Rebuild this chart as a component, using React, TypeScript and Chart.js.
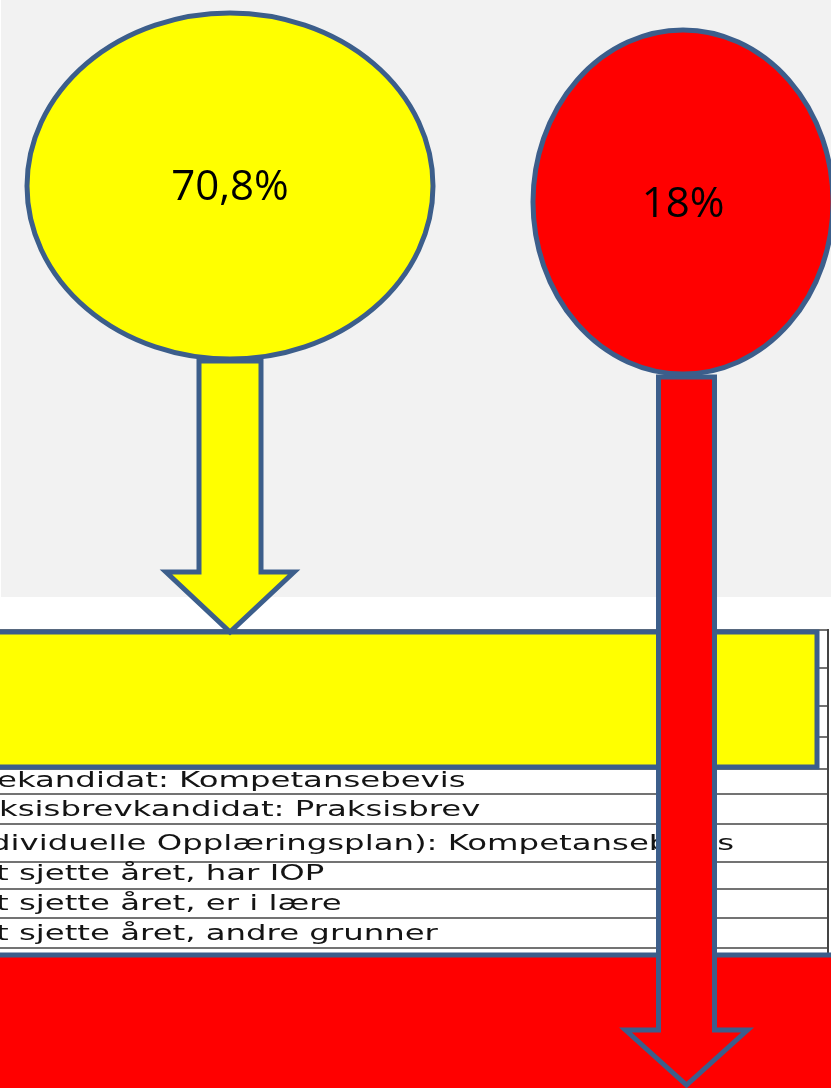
import React, { useEffect, useRef } from "react";
import { Chart, registerables } from "chart.js";

Chart.register(...registerables);

// ---- data ----
const shareLabels = ["70,8%", "18%"];
const shareValues = [70.8, 18];
const shareColors = ["#ffff00", "#ff0000"];
const tableRowLabels = [
  "ekandidat: Kompetansebevis",
  "ksisbrevkandidat: Praksisbrev",
  "dividuelle Opplæringsplan): Kompetansebevis",
  "t sjette året, har IOP",
  "t sjette året, er i lære",
  "t sjette året, andre grunner",
];

// ---- geometry (page units) ----
const W = 831;
const H = 1088;
const BORDER = "#3c5e8b";
const ellipses = [
  { cx: 230, cy: 186, rx: 203, ry: 173, textY: 188 },
  { cx: 683, cy: 202, rx: 150, ry: 172, textY: 205 },
];
const arrows = [
  { cx: 230, half: 31, top: 361, headBase: 572, headHalf: 64, tip: 632 },
  { cx: 686.5, half: 28, top: 377, headBase: 1030, headHalf: 61, tip: 1085 },
];
const rowTextX = [-3, -1, -10, -4, -4, -4];
const rowBaselines = [787, 816, 850, 880, 910, 940];
const rowLines = [630, 668, 706, 737, 769, 794, 824, 862, 889, 918, 948];

const drawPlugin = {
  id: "diagram",
  beforeDatasetsDraw(chart: any) {
    const ctx: CanvasRenderingContext2D = chart.ctx;
    const xs = chart.scales.x;
    const ys = chart.scales.y;
    const X = (v: number) => xs.getPixelForValue(v);
    const Y = (v: number) => ys.getPixelForValue(v);
    const sx = (X(100) - X(0)) / 100;
    const sy = (Y(100) - Y(0)) / 100;

    ctx.save();
    // backgrounds
    ctx.fillStyle = "#ffffff";
    ctx.fillRect(X(0), Y(0), X(W) - X(0), Y(H) - Y(0));
    ctx.fillStyle = "#f2f2f2";
    ctx.fillRect(X(1), Y(0), X(W) - X(1), Y(597) - Y(0));

    // table lines
    ctx.strokeStyle = "#444444";
    ctx.lineWidth = 1.6;
    rowLines.forEach((ly) => {
      ctx.beginPath();
      ctx.moveTo(X(0), Y(ly));
      ctx.lineTo(X(828), Y(ly));
      ctx.stroke();
    });
    ctx.lineWidth = 2;
    ctx.beginPath();
    ctx.moveTo(X(828), Y(629));
    ctx.lineTo(X(828), Y(955));
    ctx.stroke();

    // table text
    ctx.fillStyle = "#141414";
    ctx.font = "21px 'DejaVu Sans'";
    ctx.textBaseline = "alphabetic";
    ctx.textAlign = "left";
    tableRowLabels.forEach((t, i) => {
      ctx.save();
      ctx.translate(X(rowTextX[i]), Y(rowBaselines[i]));
      ctx.scale(1.54 * sx, sy);
      ctx.fillText(t, 0, 0);
      ctx.restore();
    });

    ctx.lineJoin = "miter";
    ctx.lineWidth = 5;
    ctx.strokeStyle = BORDER;

    // yellow box
    ctx.fillStyle = shareColors[0];
    ctx.beginPath();
    ctx.rect(X(-20), Y(632), X(817) - X(-20), Y(767) - Y(632));
    ctx.fill();
    ctx.stroke();

    // red box
    ctx.fillStyle = shareColors[1];
    ctx.beginPath();
    ctx.rect(X(-20), Y(955), X(W + 20) - X(-20), Y(H + 20) - Y(955));
    ctx.fill();
    ctx.stroke();

    // arrows + ellipses
    shareValues.forEach((_, i) => {
      const a = arrows[i];
      const e = ellipses[i];
      ctx.fillStyle = shareColors[i];
      ctx.beginPath();
      ctx.moveTo(X(a.cx - a.half), Y(a.top));
      ctx.lineTo(X(a.cx - a.half), Y(a.headBase));
      ctx.lineTo(X(a.cx - a.headHalf), Y(a.headBase));
      ctx.lineTo(X(a.cx), Y(a.tip));
      ctx.lineTo(X(a.cx + a.headHalf), Y(a.headBase));
      ctx.lineTo(X(a.cx + a.half), Y(a.headBase));
      ctx.lineTo(X(a.cx + a.half), Y(a.top));
      ctx.closePath();
      ctx.fill();
      ctx.stroke();

      ctx.beginPath();
      ctx.ellipse(X(e.cx), Y(e.cy), e.rx * sx, e.ry * sy, 0, 0, Math.PI * 2);
      ctx.fill();
      ctx.stroke();

      ctx.fillStyle = "#000000";
      ctx.font = "42px 'Open Sans'";
      ctx.textAlign = "center";
      ctx.textBaseline = "middle";
      ctx.fillText(shareLabels[i], X(e.cx), Y(e.textY));
    });
    ctx.restore();
  },
};

export default function App() {
  const ref = useRef<HTMLCanvasElement | null>(null);
  useEffect(() => {
    if (!ref.current) return;
    const chart = new Chart(ref.current, {
      type: "scatter",
      data: {
        datasets: [
          {
            label: "Andel",
            data: ellipses.map((e) => ({ x: e.cx, y: e.cy })),
            pointRadius: 0,
            pointHoverRadius: 0,
          },
        ],
      },
      options: {
        animation: false,
        responsive: false,
        layout: { padding: 0 },
        plugins: {
          legend: { display: false },
          tooltip: { enabled: false },
        },
        scales: {
          x: { type: "linear", min: 0, max: W, display: false },
          y: { type: "linear", min: 0, max: H, reverse: true, display: false },
        },
      },
      plugins: [drawPlugin],
    });
    return () => chart.destroy();
  }, []);
  return (
    <div style={{ position: "absolute", left: 0, top: 0, width: W, height: H, overflow: "hidden" }}>
      <canvas ref={ref} width={W} height={H} style={{ display: "block", width: W, height: H }} />
    </div>
  );
}
